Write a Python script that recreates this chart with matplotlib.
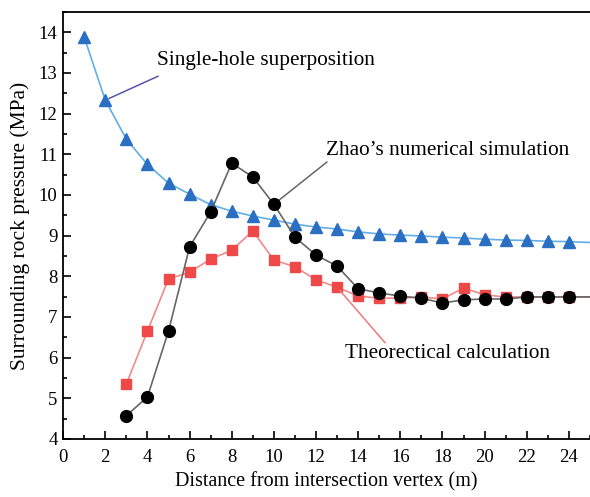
import numpy as np
import matplotlib
matplotlib.use("Agg")
import matplotlib.pyplot as plt
from matplotlib.ticker import MultipleLocator

plt.rcParams['font.family'] = ['Liberation Serif', 'DejaVu Serif']

###############################################################################

distance = np.arange(1, 26)
single_hole = [13.88, 12.33, 11.37, 10.75, 10.29, 10.02, 9.76, 9.60, 9.48, 9.38,
               9.28, 9.21, 9.16, 9.09, 9.04, 9.01, 8.99, 8.96, 8.94, 8.91,
               8.89, 8.88, 8.86, 8.85, 8.83]

dist_b = np.arange(3, 26)
zhao = [4.57, 5.03, 6.65, 8.72, 9.58, 10.78, 10.44, 9.77, 8.96, 8.52,
        8.25, 7.69, 7.59, 7.51, 7.46, 7.34, 7.42, 7.44, 7.44, 7.49,
        7.49, 7.49, 7.49]
theory = [5.35, 6.65, 7.93, 8.10, 8.42, 8.64, 9.11, 8.40, 8.23, 7.91,
          7.73, 7.51, 7.46, 7.46, 7.49, 7.44, 7.71, 7.54, 7.49, 7.49,
          7.49, 7.49, 7.49]

###############################################################################

fig = plt.figure(figsize=(5.9, 4.97), dpi=100)
ax = fig.add_axes([0.107, 0.117, 0.893, 0.859])

# last point sits on the plot edge: keep the line, drop the marker
ax.plot(distance, single_hole, color="#62aee8", lw=1.2, marker="^", ms=9,
        mfc="#2b6fc2", mec="#2b6fc2", markevery=slice(0, -1), zorder=3)
ax.plot(dist_b, theory, color="#f28a8a", lw=1.2, marker="s", ms=7.5,
        mfc="#ef4848", mec="#ef4848", markevery=slice(0, -1), zorder=3)
ax.plot(dist_b, zhao, color="#666666", lw=1.2, marker="o", ms=8.5,
        mfc="black", mec="black", markevery=slice(0, -1), zorder=4)

ax.set_xlim(0, 25)
ax.set_ylim(4, 14.5)
ax.xaxis.set_major_locator(MultipleLocator(2))
ax.xaxis.set_minor_locator(MultipleLocator(1))
ax.yaxis.set_major_locator(MultipleLocator(1))
ax.yaxis.set_minor_locator(MultipleLocator(0.5))
ax.tick_params(which="both", direction="in", labelsize=13.5, width=1.2)
ax.tick_params(axis="x", pad=7)
ax.tick_params(axis="y", pad=4)
ax.tick_params(which="major", length=6)
ax.tick_params(which="minor", length=3)
ax.spines["right"].set_visible(False)
for s in ["left", "bottom", "top"]:
    ax.spines[s].set_linewidth(1.3)

ax.set_xlabel("Distance from intersection vertex (m)", fontsize=14.5, labelpad=5)
ax.set_ylabel("Surrounding rock pressure (MPa)", fontsize=15.5, labelpad=6)

# labels with leader lines
ax.text(4.46, 13.31, "Single-hole superposition", fontsize=15.3, va="center")
ax.annotate("", xy=(distance[1], single_hole[1]), xytext=(4.51, 12.92),
            arrowprops=dict(arrowstyle="-", color="#5555a8", lw=1.1,
                            shrinkA=0, shrinkB=3))
ax.text(12.47, 11.1, "Zhao\u2019s numerical simulation", fontsize=15.3, va="center")
ax.annotate("", xy=(dist_b[7], zhao[7]), xytext=(12.52, 10.81),
            arrowprops=dict(arrowstyle="-", color="#666666", lw=1.1,
                            shrinkA=0, shrinkB=3))
ax.text(13.38, 6.11, "Theorectical calculation", fontsize=15.3, va="center")
ax.annotate("", xy=(dist_b[10], theory[10]), xytext=(15.28, 6.36),
            arrowprops=dict(arrowstyle="-", color="#f07878", lw=1.1,
                            shrinkA=0, shrinkB=3))

fig.savefig("out.png", dpi=100)
